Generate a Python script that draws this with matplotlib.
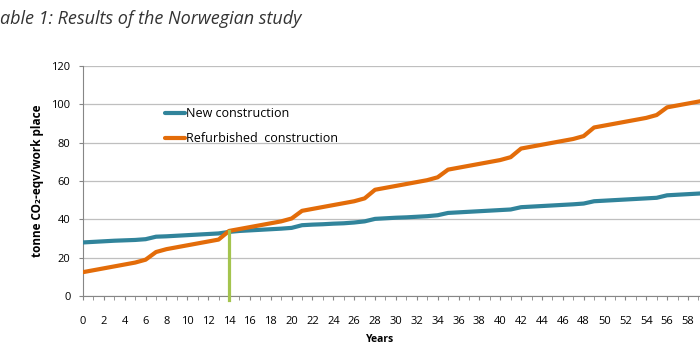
import numpy as np
import matplotlib
matplotlib.use("Agg")
import matplotlib.pyplot as plt

plt.rcParams['font.family'] = ['Open Sans', 'DejaVu Sans']

years = list(range(0, 61))
new_construction = [
    28.0, 28.3, 28.6, 28.9, 29.1, 29.3, 29.7, 31.0, 31.2, 31.5,
    31.8, 32.1, 32.4, 32.7, 33.5, 34.0, 34.3, 34.6, 34.9, 35.2,
    35.6, 37.0, 37.3, 37.5, 37.8, 38.0, 38.4, 39.0, 40.3, 40.6,
    40.9, 41.1, 41.4, 41.7, 42.2, 43.4, 43.7, 44.0, 44.3, 44.6,
    44.9, 45.2, 46.4, 46.7, 47.0, 47.3, 47.6, 47.9, 48.3, 49.5,
    49.8, 50.1, 50.4, 50.7, 51.0, 51.3, 52.6, 52.9, 53.2, 53.5,
    53.8,
]
refurbished = [
    12.5, 13.5, 14.5, 15.5, 16.5, 17.5, 19.0, 23.0, 24.5, 25.5,
    26.5, 27.5, 28.5, 29.5, 34.0, 35.0, 36.0, 37.0, 38.0, 39.0,
    40.5, 44.5, 45.5, 46.5, 47.5, 48.5, 49.5, 51.0, 55.5, 56.5,
    57.5, 58.5, 59.5, 60.5, 62.0, 66.0, 67.0, 68.0, 69.0, 70.0,
    71.0, 72.5, 77.0, 78.0, 79.0, 80.0, 81.0, 82.0, 83.5, 88.0,
    89.0, 90.0, 91.0, 92.0, 93.0, 94.5, 98.5, 99.5, 100.5, 101.5,
    102.5,
]
# year labels visible in the (cropped) picture
x_labels = list(range(0, 59, 2))
break_even_year = 14
break_even_value = 34

BLUE = "#31849B"
ORANGE = "#E36C09"
GREEN = "#A4C44E"

fig = plt.figure(figsize=(7, 3.5), dpi=100)
ax = fig.add_axes([0.1186, 0.154, 0.894, 0.657])

ax.plot(years, new_construction, color=BLUE, lw=3.0, label="New construction",
        solid_capstyle="round", zorder=3)
ax.plot(years, refurbished, color=ORANGE, lw=3.0, label="Refurbished  construction",
        solid_capstyle="round", zorder=3)
ax.plot([break_even_year, break_even_year], [-2.2, break_even_value],
        color=GREEN, lw=2.3, zorder=4, clip_on=False)

ax.set_xlim(0, 60)
ax.set_ylim(0, 120)
ax.set_yticks(range(0, 121, 20))
ax.set_xticks(x_labels)
ax.set_xticks(range(0, 61), minor=True)
ax.grid(axis="y", color="#BFBFBF", lw=0.9)
ax.set_axisbelow(True)

for s in ["top", "right"]:
    ax.spines[s].set_visible(False)
ax.spines["left"].set_color("#868686")
ax.spines["bottom"].set_color("#868686")
ax.tick_params(axis="both", colors="#868686", labelcolor="black", labelsize=8,
               direction="out", length=3)
ax.tick_params(axis="x", which="minor", colors="#868686", length=3)
ax.tick_params(axis="x", pad=11)
ax.tick_params(axis="y", pad=6)

ax.set_ylabel("tonne CO₂-eqv/work place", fontsize=8.5, fontweight="bold", labelpad=5)
ax.set_xlabel("Years", fontsize=7.5, fontweight="bold")
ax.xaxis.set_label_coords((380 - 83) / 626, -0.165)

fig.text(0.0, 0.945, "able 1: Results of the Norwegian study", fontsize=13,
         style="italic", color="#333333", va="center")

ax.legend(loc="upper left", bbox_to_anchor=(165 / 700, 1 - 107 / 350),
          bbox_transform=fig.transFigure, frameon=False, fontsize=9,
          handlelength=1.6, handletextpad=0.1, labelspacing=1.0,
          borderaxespad=0, borderpad=0)

fig.savefig("out.png", dpi=100)
